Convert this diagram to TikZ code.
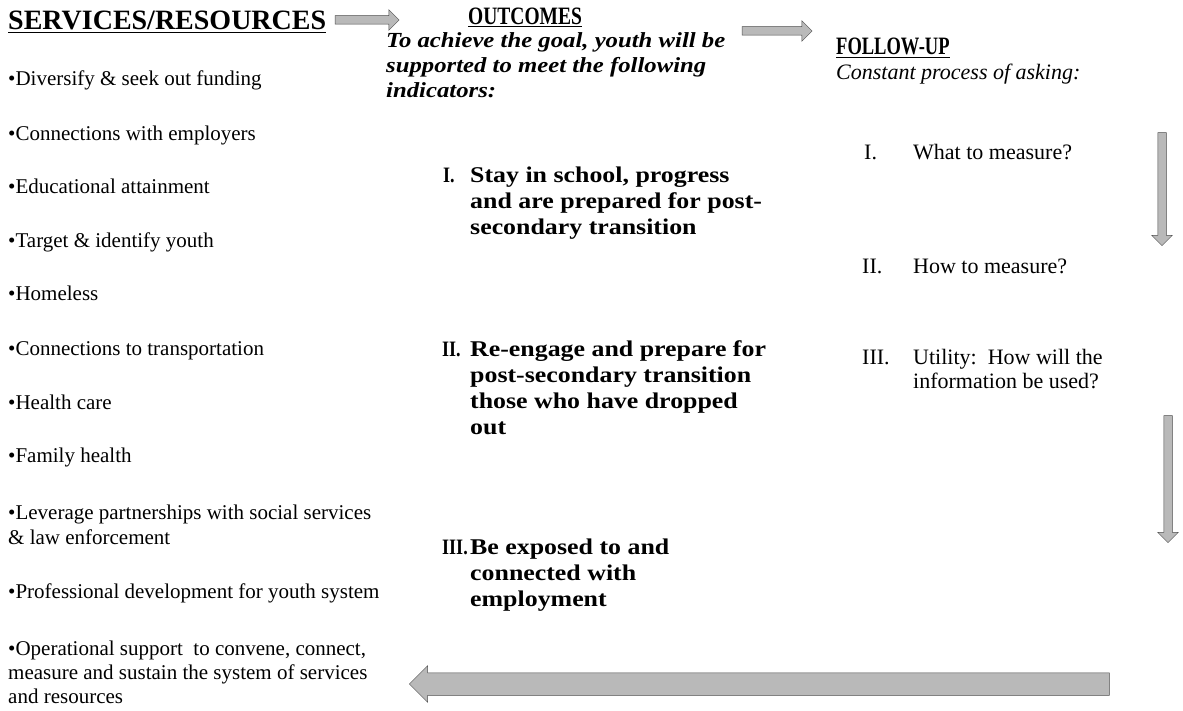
\documentclass[tikz,border=0pt]{standalone}
\usepackage{fontspec}
\setmainfont{Liberation Serif}
\newfontfamily\widefont[FakeStretch=1.15]{Liberation Serif}
\usetikzlibrary{shapes.arrows}
\newcommand{\narrow}[2][0.82]{\scalebox{#1}[1]{#2}}

\begin{document}
\begin{tikzpicture}[x=1pt, y=-1pt,
  every node/.style={inner sep=0pt, anchor=base west, align=left},
  head/.style={font=\fontsize{25}{28}\selectfont\bfseries},
  item/.style={font=\fontsize{21}{25}\selectfont},
  goal/.style={font=\widefont\fontsize{21.5}{25}\selectfont\bfseries\itshape},
  outc/.style={font=\widefont\fontsize{22.5}{26}\selectfont\bfseries},
  num/.style={font=\fontsize{22}{26}\selectfont\bfseries},
  ask/.style={font=\fontsize{22}{24}\selectfont},
  blockarrow/.style 2 args={single arrow, anchor=center, inner xsep=0pt, inner ysep=#1, single arrow head extend=#2, fill=gray!55, draw=gray!60!black, line width=0.5pt}]
  \useasboundingbox (0,0) rectangle (1183,711);

  % headings (multi-line nodes sit on the baseline of their last line)
  \node[head, font=\fontsize{28}{30}\selectfont\bfseries] (svc) at (8,30) {\underline{SERVICES/RESOURCES}};
  \node[head] (out) at (468,25) {\narrow[0.78]{\underline{OUTCOMES}}};
  \node[head] (fol) at (836,55) {\narrow[0.74]{\underline{FOLLOW-UP}}};
  \node[goal] (goal) at (386,98) {To achieve the goal, youth will be\\supported to meet the following\\indicators:};
  \node[font=\fontsize{22}{24}\selectfont\itshape] (ask) at (836,80) {Constant process of asking:};

  % services list
  \foreach \yy/\txt [count=\i] in {86/{•Diversify \& seek out funding},
      141/{•Connections with employers}, 194/{•Educational attainment},
      248/{•Target \& identify youth}, 301/{•Homeless},
      355/{•Connections to transportation}, 409/{•Health care},
      462/{•Family health},
      544/{•Leverage partnerships with social services\\\& law enforcement},
      598/{•Professional development for youth system}}
    \node[item] (svc\i) at (8,\yy) {\txt};
  \node[item, font=\fontsize{21}{24}\selectfont] (svc11) at (8,703) {•Operational support\ \ to convene, connect,\\measure and sustain the system of services\\and resources};

  % outcomes
  \node[num] (o1n) at (443,183) {\narrow{I.}};
  \node[outc] (o1) at (470,235) {Stay in school, progress\\and are prepared for post-\\secondary transition};
  \node[num] (o2n) at (442,356) {\narrow{II.}};
  \node[outc] (o2) at (470,434) {Re-engage and prepare for\\post-secondary transition\\those who have dropped\\out};
  \node[num] (o3n) at (442,554) {\narrow{III.}};
  \node[outc] (o3) at (470,606) {Be exposed to and\\connected with\\employment};

  % follow-up
  \node[ask] (f1n) at (864,160) {I.};
  \node[ask] (f1) at (913,160) {What to measure?};
  \node[ask] (f2n) at (862,274) {II.};
  \node[ask] (f2) at (913,274) {How to measure?};
  \node[ask] (f3n) at (862,364) {III.};
  \node[ask] (f3) at (913,388) {Utility:\ \ How will the\\information be used?};

  % block arrows
  \node[blockarrow={4pt}{6pt}, minimum height=64pt] (arrA) at (365,20) {};
  \node[blockarrow={4pt}{6pt}, minimum height=70pt] (arrB) at (775,31) {};
  \node[blockarrow={4pt}{6pt}, minimum height=113pt, rotate=-90] (arrC) at (1162,187) {};
  \node[blockarrow={4pt}{6pt}, minimum height=127pt, rotate=-90] (arrD) at (1168,477) {};
  \node[blockarrow={11pt}{7pt}, minimum height=700pt, rotate=180] (arrE) at (765,684) {};
\end{tikzpicture}
\end{document}
